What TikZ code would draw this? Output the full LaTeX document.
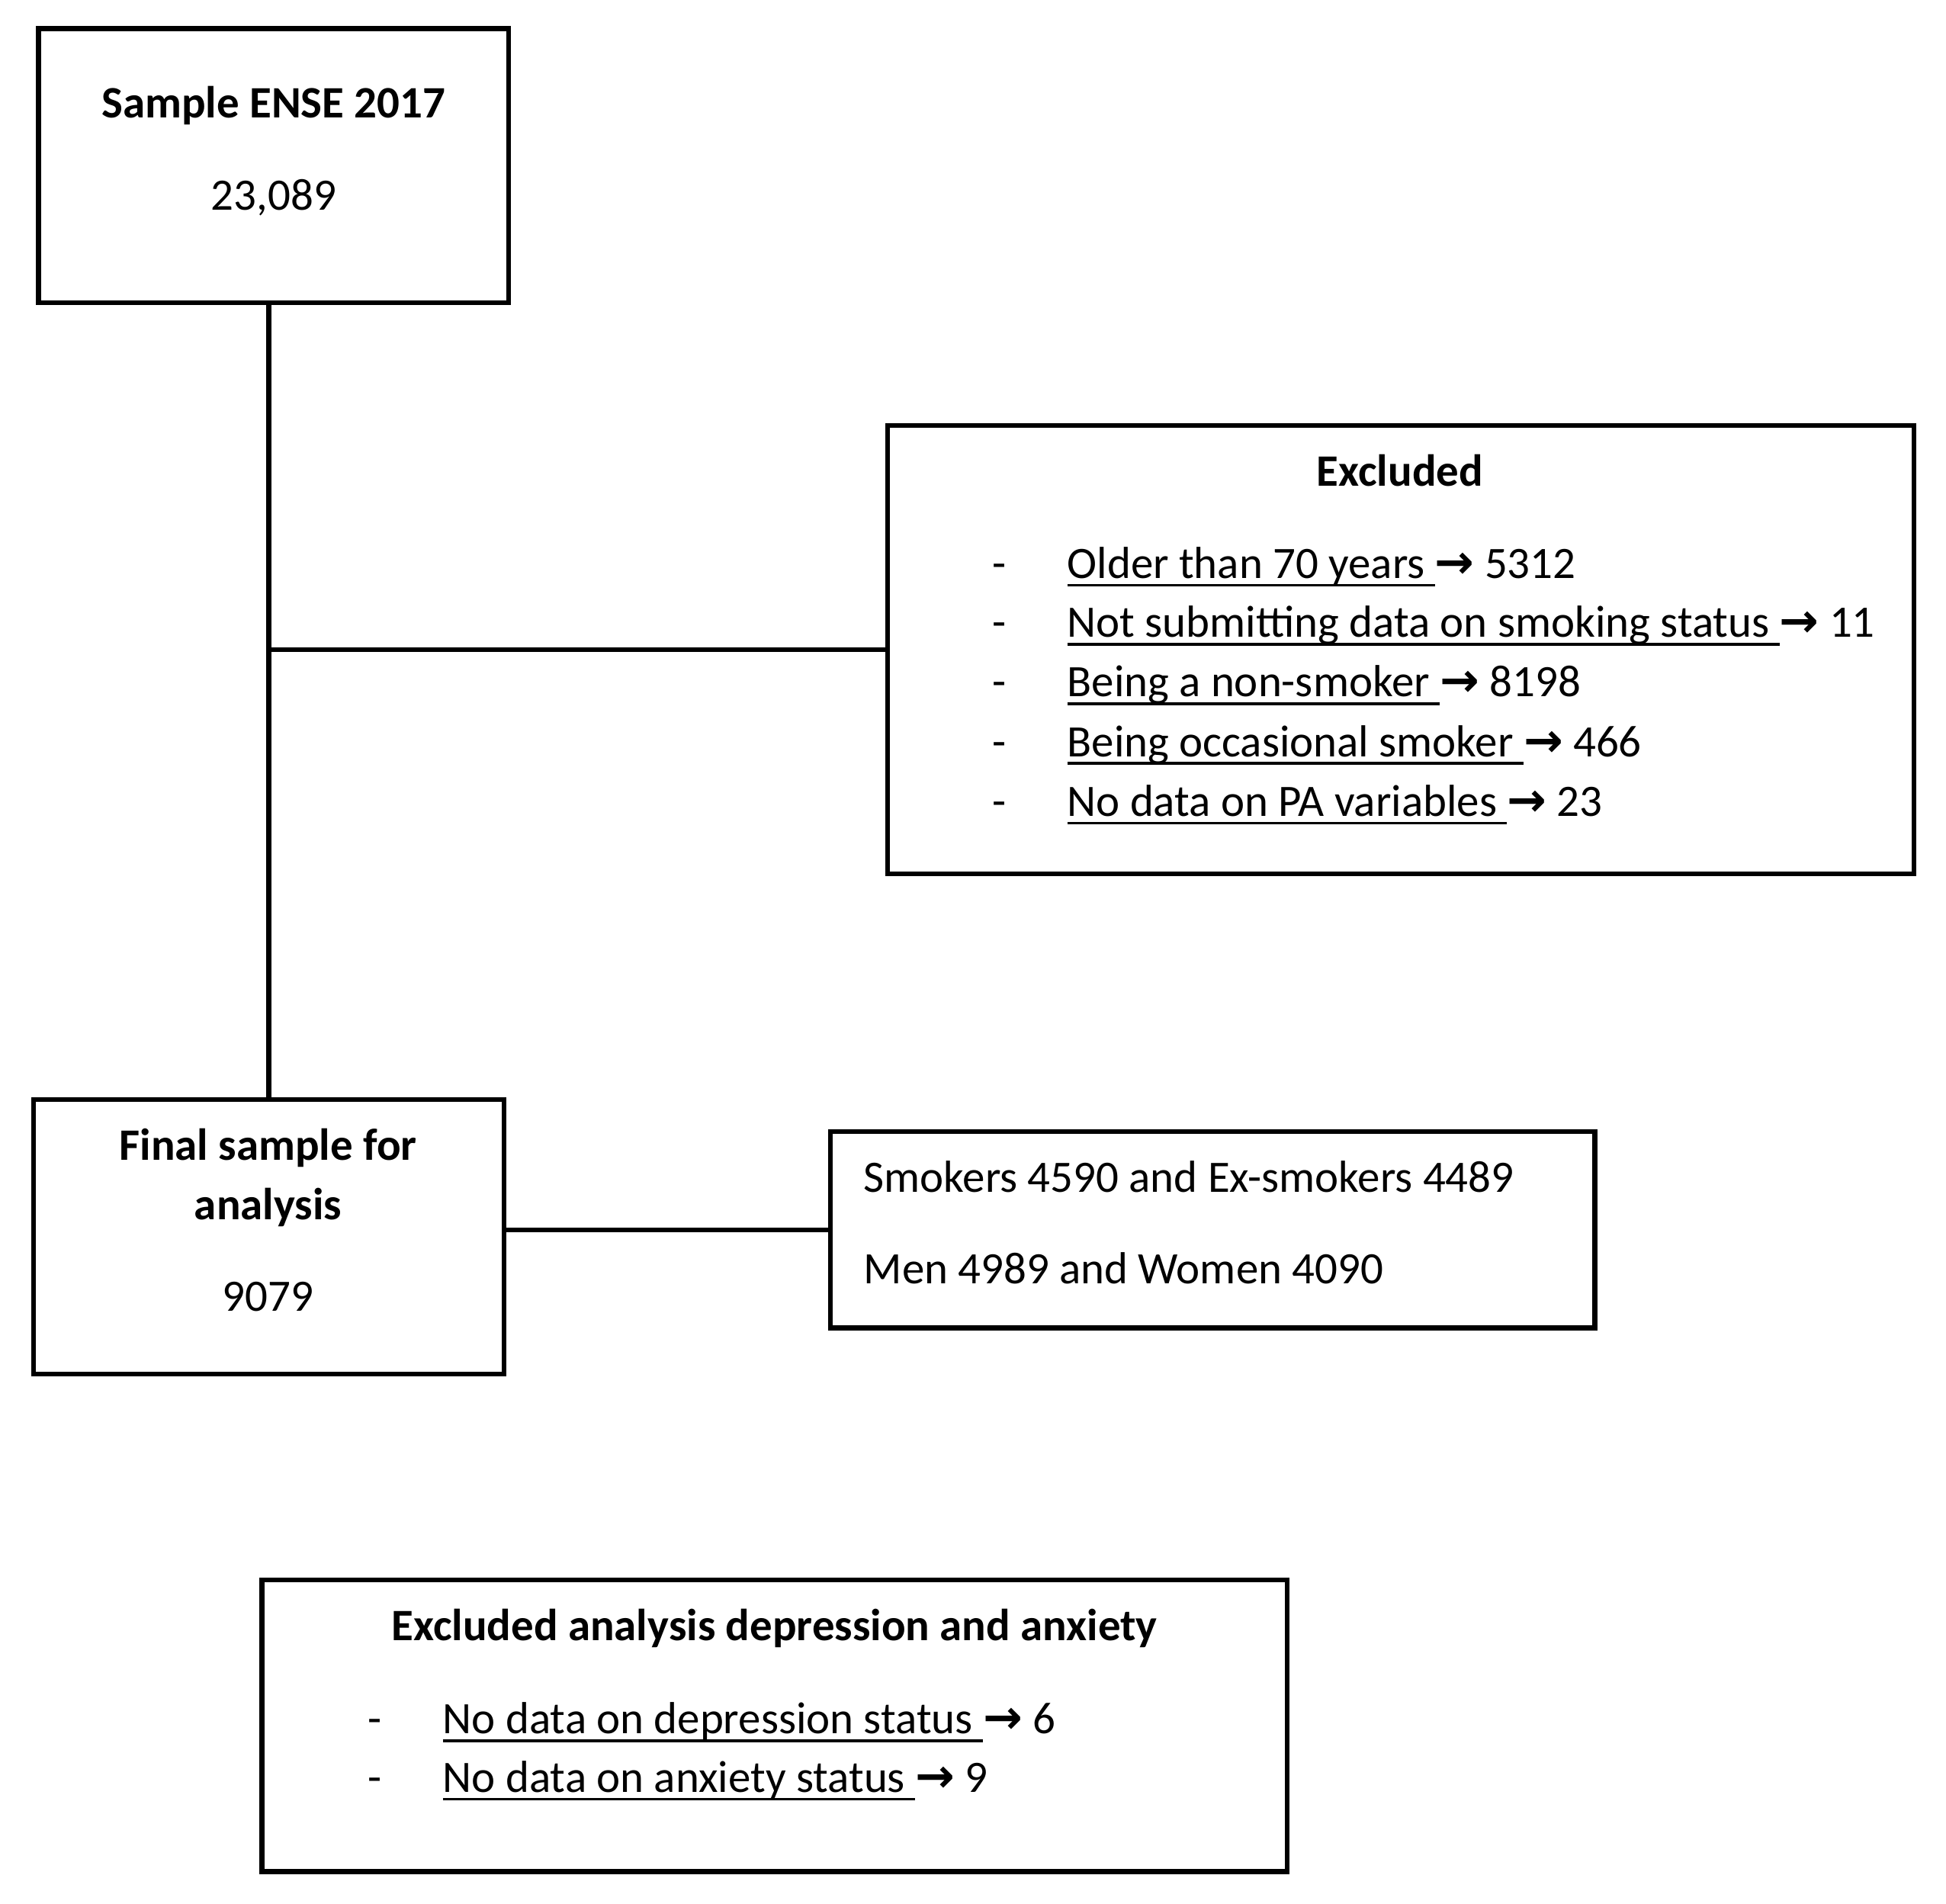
\documentclass[tikz,border=0pt]{standalone}
\usepackage{fontspec}
\setmainfont{Carlito}
\newfontfamily\arrowfont{DejaVu Sans}[Scale=1.05]
\newcommand{\excarrow}{{\arrowfont\bfseries\char"2192}}
\newcommand{\exline}[1]{\setbox0=\hbox{#1}\rlap{\rule[-1.9pt]{\wd0}{0.6pt}}\box0}
\begin{document}
\begin{tikzpicture}[line width=1.1pt,
  every node/.style={font=\fontsize{10.3pt}{13pt}\selectfont, inner sep=0pt},
  box/.style={draw, line width=1.1pt},
  item/.style={anchor=west},
  initem/.style={anchor=base west},
  bullet/.style={anchor=base}]
\useasboundingbox (0,0) rectangle (15.68,-15.342);
% boxes
\node [box, minimum width=3.79cm, minimum height=2.21cm] (sample) at (2.205,-1.335) {};
\node [box, minimum width=8.27cm, minimum height=3.61cm] (excl) at (11.285,-5.235) {};
\node [box, minimum width=3.79cm, minimum height=2.21cm] (final) at (2.165,-9.965) {};
\node [box, minimum width=6.16cm, minimum height=1.58cm] (groups) at (9.77,-9.91) {};
\node [box, minimum width=8.26cm, minimum height=2.35cm] (dep) at (6.24,-13.905) {};
% lines
\coordinate (top) at (final.north |- sample.south);
\coordinate (junc) at (final.north |- excl.west);
\draw (top) -- (final.north);
\draw (junc) -- (excl.west);
\draw (final.east |- groups.west) -- (groups.west);
% texts
\node at (2.205,-0.85) {\bfseries Sample ENSE 2017};
\node at (2.205,-1.59) {23,089};
\node at (11.28,-3.79) {\bfseries Excluded};
\foreach \y/\t in {-4.66/{\exline{Older than 70 years\ }\excarrow{} 5312},
  -5.135/{\exline{Not submitting data on smoking status\ }\excarrow{} 11},
  -5.615/{\exline{Being a non-smoker\ }\excarrow{} 8198},
  -6.095/{\exline{Being occasional smoker\ }\excarrow{} 466},
  -6.575/{\exline{No data on PA variables\ }\excarrow{} 23}}{
  \node [bullet] at (8.05,\y) {-};
  \node [initem] at (8.58,\y) {\t};
}
\node at (2.16,-9.25) {\bfseries Final sample for};
\node at (2.16,-9.73) {\bfseries analysis};
\node at (2.16,-10.45) {9079};
\node [item] at (6.94,-9.48) {Smokers 4590 and Ex-smokers 4489};
\node [item] at (6.94,-10.22) {Men 4989 and Women 4090};
\node at (6.24,-13.12) {\bfseries Excluded analysis depression and anxiety};
\node [bullet] at (3.02,-13.97) {-};
\node [initem] at (3.55,-13.97) {\exline{No data on depression status\ }\excarrow{} 6};
\node [bullet] at (3.02,-14.44) {-};
\node [initem] at (3.55,-14.44) {\exline{No data on anxiety status\ }\excarrow{} 9};
\end{tikzpicture}
\end{document}
